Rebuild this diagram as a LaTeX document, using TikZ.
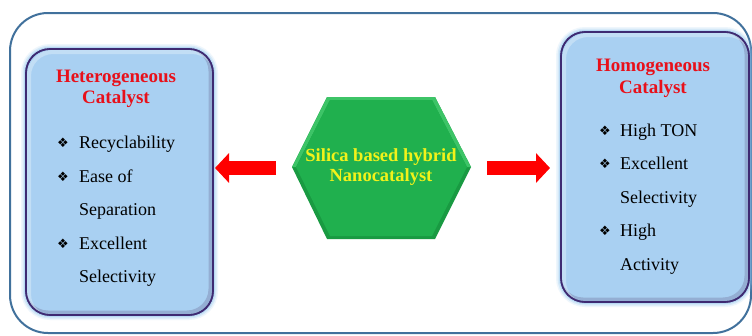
\documentclass[tikz,border=0pt]{standalone}
\usepackage{fontspec}
\setmainfont{Liberation Serif}
\newfontfamily\dejavu{DejaVu Sans}
\usetikzlibrary{arrows.meta}
\definecolor{outerblue}{HTML}{41719C}
\definecolor{boxfill}{HTML}{A9D0F2}
\definecolor{boxborder}{HTML}{3E2A72}
\definecolor{glow}{HTML}{8EC3EE}
\definecolor{hexgreen}{HTML}{20B04E}
\definecolor{hexlight}{HTML}{3DC467}
\definecolor{hexdark}{HTML}{199A42}
\definecolor{titlered}{HTML}{E8101A}
\definecolor{arrowred}{HTML}{FF0000}
\definecolor{texty}{HTML}{F2F21A}
\tikzset{
  titletext/.style={font=\fontsize{19}{21}\selectfont\bfseries, text=titlered, anchor=base, inner sep=0pt},
  itemtext/.style={font=\fontsize{18}{20}\selectfont, text=black, anchor=base west, inner sep=0pt},
  bullettext/.style={font=\dejavu\fontsize{13}{14}\selectfont, anchor=base, inner sep=0pt},
  hextext/.style={font=\fontsize{18.5}{20}\selectfont\bfseries, text=texty, anchor=base, inner sep=0pt},
  bigarrow/.style={draw=arrowred, line width=14pt, -{Triangle[length=14pt,width=29pt]}},
  catbox/.style={draw=boxborder, line width=1.6pt, fill=boxfill, rounded corners=24pt, inner sep=0pt},
}
\begin{document}
\begin{tikzpicture}[x=1pt,y=-1pt]
\useasboundingbox (0,0) rectangle (752,335);
\fill[white] (0,0) rectangle (752,335);
% outer frame
\draw[outerblue, line width=2pt, rounded corners=38pt] (10,13) rectangle (751,333);

% left box glow + box
\foreach \w/\o in {10/0.15,7/0.25,4/0.4}{
  \draw[glow, line width=\w pt, opacity=\o, rounded corners=24pt] (26,49) rectangle (213,315);
}
\node[catbox, minimum width=187pt, minimum height=266pt] (hetero) at (119.5,182) {};
\begin{scope}
  \clip[rounded corners=24pt] (26,49) rectangle (213,315);
  \draw[boxborder!60!gray, line width=5pt, opacity=0.25, rounded corners=24pt] (24,47) rectangle (211,313);
  \draw[white, line width=4pt, opacity=0.3, rounded corners=24pt] (29,52) rectangle (216,318);
\end{scope}
\draw[boxborder, line width=1.6pt, rounded corners=24pt] (26,49) rectangle (213,315);

% right box glow + box
\foreach \w/\o in {10/0.15,7/0.25,4/0.4}{
  \draw[glow, line width=\w pt, opacity=\o, rounded corners=24pt] (561,32) rectangle (749,302);
}
\node[catbox, minimum width=188pt, minimum height=270pt] (homo) at (655,167) {};
\begin{scope}
  \clip[rounded corners=24pt] (561,32) rectangle (749,302);
  \draw[boxborder!60!gray, line width=5pt, opacity=0.25, rounded corners=24pt] (559,30) rectangle (747,300);
  \draw[white, line width=4pt, opacity=0.3, rounded corners=24pt] (564,35) rectangle (752,305);
\end{scope}
\draw[boxborder, line width=1.6pt, rounded corners=24pt] (561,32) rectangle (749,302);

% hexagon with slight bevel
\fill[hexdark] (292,167) -- (327,97) -- (435,97) -- (471,167) -- (435,239) -- (327,239) -- cycle;
\fill[hexlight] (292,167) -- (327,97) -- (435,97) -- (471,167) -- (467,167) -- (432,100) -- (330,100) -- (296,167) -- cycle;
\fill[hexgreen] (296,167) -- (330,100) -- (432,100) -- (467,167) -- (432,236) -- (330,236) -- cycle;
\coordinate (hexc) at (381,168);
\coordinate (hexw) at (276,168);
\coordinate (hexe) at (487,168);
\node[hextext] (hx1) at (381,161) {Silica based hybrid};
\node[hextext] (hx2) at (381,181) {Nanocatalyst};

% arrows
\coordinate (ltip) at (215,168);
\draw[bigarrow] (hexw) -- (ltip |- hexw);
\coordinate (rtip) at (550,168);
\draw[bigarrow] (hexe) -- (rtip);

% left texts
\node[titletext] (lt1) at (116,82) {Heterogeneous};
\node[titletext] (lt2) at (116,103) {Catalyst};
\node[bullettext] (lb1) at (63,147.5) {❖};
\node[itemtext] (li1) at (79,148.5) {Recyclability};
\node[bullettext] (lb2) at (63,181) {❖};
\node[itemtext] (li2) at (79,182) {Ease of};
\node[itemtext] (li3) at (79,215.5) {Separation};
\node[bullettext] (lb3) at (63,248) {❖};
\node[itemtext] (li4) at (79,249) {Excellent};
\node[itemtext] (li5) at (79,282.5) {Selectivity};

% right texts
\node[titletext] (rt1) at (653,71) {Homogeneous};
\node[titletext] (rt2) at (653,93) {Catalyst};
\node[bullettext] (rb1) at (605,135) {❖};
\node[itemtext] (ri1) at (620,136) {High TON};
\node[bullettext] (rb2) at (605,168.5) {❖};
\node[itemtext] (ri2) at (620,169.5) {Excellent};
\node[itemtext] (ri3) at (620,203) {Selectivity};
\node[bullettext] (rb3) at (605,235.5) {❖};
\node[itemtext] (ri4) at (620,236.5) {High};
\node[itemtext] (ri5) at (620,270) {Activity};
\end{tikzpicture}
\end{document}
